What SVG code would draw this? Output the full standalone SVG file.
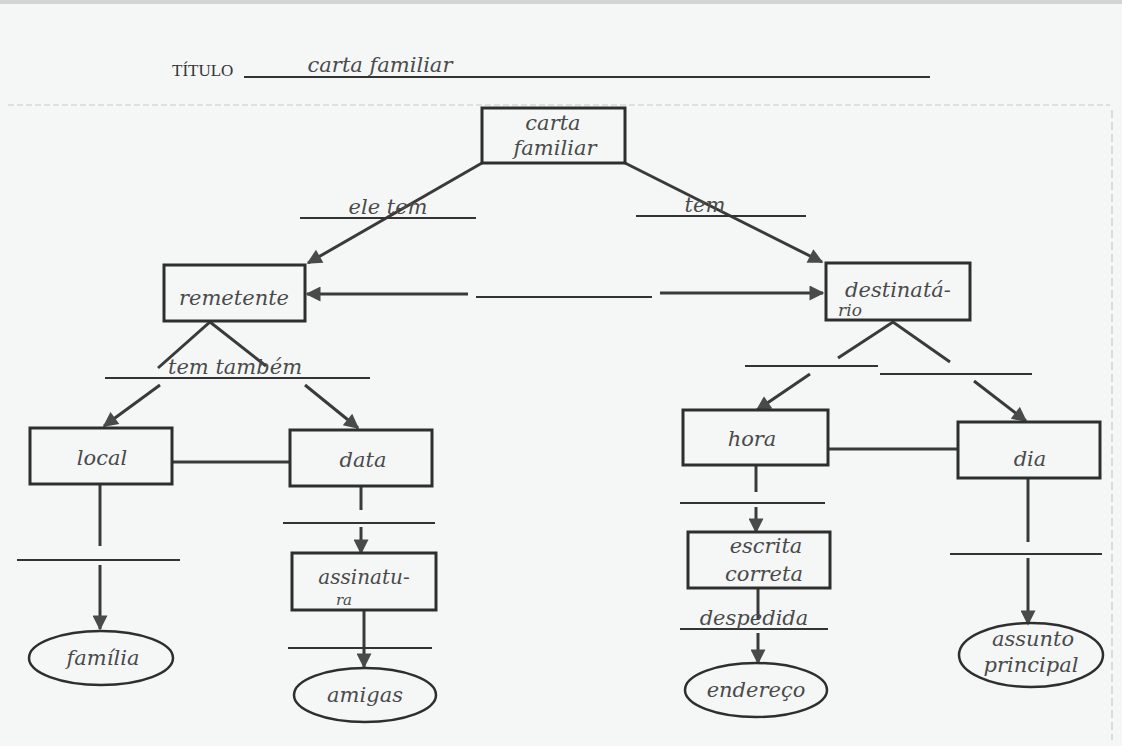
<svg xmlns="http://www.w3.org/2000/svg" width="1122" height="746" viewBox="0 0 1122 746">
<defs>
<marker id="ah" viewBox="0 0 10 10" refX="9" refY="5" markerWidth="5.5" markerHeight="5" markerUnits="strokeWidth" orient="auto">
<path d="M0,0 L10,5 L0,10 z" fill="#4a4a4a"/>
</marker>
<style>
.box{fill:none;stroke:#2e2e2e;stroke-width:3}
.ell{fill:none;stroke:#2e2e2e;stroke-width:2.5}
.c{fill:none;stroke:#3a3a3a;stroke-width:3}
.ca{fill:none;stroke:#3a3a3a;stroke-width:3;marker-end:url(#ah)}
.ul{fill:none;stroke:#333;stroke-width:2}
.hw{font-family:"DejaVu Serif","Liberation Serif",serif;font-style:italic;font-size:21px;fill:#4a4a4a;text-anchor:middle}
.tt{font-family:"Liberation Serif",serif;font-size:17px;fill:#333}
</style>
</defs>
<rect x="0" y="0" width="1122" height="746" fill="#f5f7f7"/>
<rect x="0" y="0" width="1122" height="4" fill="#d2d5d5"/>
<line x1="8" y1="105" x2="1110" y2="105" stroke="#d6d9d9" stroke-width="1.5" stroke-dasharray="6 3"/>
<line x1="1112" y1="110" x2="1112" y2="740" stroke="#d0d3d3" stroke-width="1.5" stroke-dasharray="8 4"/>
<g id="title">
<text class="tt" x="172" y="76">TÍTULO</text>
<line class="ul" x1="244" y1="77" x2="930" y2="77" stroke-width="1.5"/>
<text class="hw" x="380" y="72">carta familiar</text>
</g>
<g id="connectors">
<line class="ca" x1="482" y1="163" x2="308" y2="263"/>
<line class="ul" x1="300" y1="218" x2="476" y2="218"/>
<line class="ca" x1="625" y1="163" x2="822" y2="262"/>
<line class="ul" x1="636" y1="216" x2="806" y2="216"/>
<line class="ca" x1="468" y1="294" x2="307" y2="294"/>
<line class="ul" x1="476" y1="297" x2="652" y2="297"/>
<line class="ca" x1="660" y1="293" x2="823" y2="293"/>
<polyline class="c" points="158,368 210,322 266,366"/>
<line class="ul" x1="105" y1="378" x2="370" y2="378"/>
<line class="ca" x1="160" y1="385" x2="104" y2="426"/>
<line class="ca" x1="305" y1="385" x2="358" y2="428"/>
<line class="c" x1="172" y1="462" x2="290" y2="462" stroke-width="2.5"/>
<line class="c" x1="100" y1="484" x2="100" y2="546"/>
<line class="ul" x1="17" y1="560" x2="180" y2="560"/>
<line class="ca" x1="100" y1="565" x2="100" y2="629"/>
<line class="c" x1="361" y1="486" x2="361" y2="510"/>
<line class="ul" x1="283" y1="523" x2="435" y2="523"/>
<line class="ca" x1="361" y1="527" x2="361" y2="553"/>
<line class="ca" x1="364" y1="610" x2="364" y2="667"/>
<line class="ul" x1="288" y1="648" x2="432" y2="648"/>
<polyline class="c" points="838,358 893,322 950,362"/>
<line class="ul" x1="745" y1="366" x2="878" y2="366"/>
<line class="ul" x1="880" y1="374" x2="1032" y2="374"/>
<line class="ca" x1="810" y1="374" x2="757" y2="410"/>
<line class="ca" x1="974" y1="381" x2="1026" y2="421"/>
<line class="c" x1="828" y1="449" x2="958" y2="449" stroke-width="2.5"/>
<line class="c" x1="756" y1="465" x2="756" y2="492"/>
<line class="ul" x1="680" y1="503" x2="825" y2="503"/>
<line class="ca" x1="756" y1="507" x2="756" y2="532"/>
<line class="c" x1="758" y1="588" x2="758" y2="620"/>
<line class="ul" x1="680" y1="629" x2="828" y2="629"/>
<line class="ca" x1="758" y1="633" x2="758" y2="663"/>
<line class="c" x1="1028" y1="478" x2="1028" y2="542"/>
<line class="ul" x1="950" y1="554" x2="1102" y2="554"/>
<line class="ca" x1="1028" y1="558" x2="1028" y2="624"/>
</g>
<g id="n-carta"><rect class="box" x="482" y="108" width="143" height="55"/><text class="hw" x="553" y="130">carta</text><text class="hw" x="555" y="155">familiar</text></g>
<g id="n-ele-tem"><text class="hw" x="388" y="214">ele   tem</text></g>
<g id="n-tem"><text class="hw" x="705" y="212">tem</text></g>
<g id="n-remetente"><rect class="box" x="164" y="265" width="141" height="56"/><text class="hw" x="234" y="305">remetente</text></g>
<g id="n-destinatario"><rect class="box" x="826" y="263" width="144" height="57"/><text class="hw" x="898" y="297">destinatá-</text><text class="hw" x="850" y="316" style="font-size:17px">rio</text></g>
<g id="n-tem-tambem"><text class="hw" x="235" y="374">tem  também</text></g>
<g id="n-local"><rect class="box" x="30" y="428" width="142" height="56"/><text class="hw" x="102" y="465">local</text></g>
<g id="n-data"><rect class="box" x="290" y="430" width="142" height="56"/><text class="hw" x="363" y="467">data</text></g>
<g id="n-hora"><rect class="box" x="683" y="410" width="145" height="55"/><text class="hw" x="752" y="446">hora</text></g>
<g id="n-dia"><rect class="box" x="958" y="422" width="142" height="56"/><text class="hw" x="1030" y="466">dia</text></g>
<g id="n-assinatura"><rect class="box" x="292" y="553" width="144" height="57"/><text class="hw" x="364" y="584" style="font-size:20px">assinatu-</text><text class="hw" x="344" y="605" style="font-size:15px">ra</text></g>
<g id="n-escrita"><rect class="box" x="688" y="532" width="142" height="56"/><text class="hw" x="766" y="553">escrita</text><text class="hw" x="764" y="581">correta</text></g>
<g id="n-despedida"><text class="hw" x="754" y="625">despedida</text></g>
<g id="n-familia"><ellipse class="ell" cx="101" cy="658" rx="72" ry="27"/><text class="hw" x="103" y="665">família</text></g>
<g id="n-amigas"><ellipse class="ell" cx="365" cy="695" rx="71" ry="27"/><text class="hw" x="365" y="702">amigas</text></g>
<g id="n-endereco"><ellipse class="ell" cx="756" cy="690" rx="71" ry="27"/><text class="hw" x="756" y="697">endereço</text></g>
<g id="n-assunto"><ellipse class="ell" cx="1031" cy="655" rx="72" ry="32"/><text class="hw" x="1033" y="646">assunto</text><text class="hw" x="1031" y="672">principal</text></g>
</svg>
